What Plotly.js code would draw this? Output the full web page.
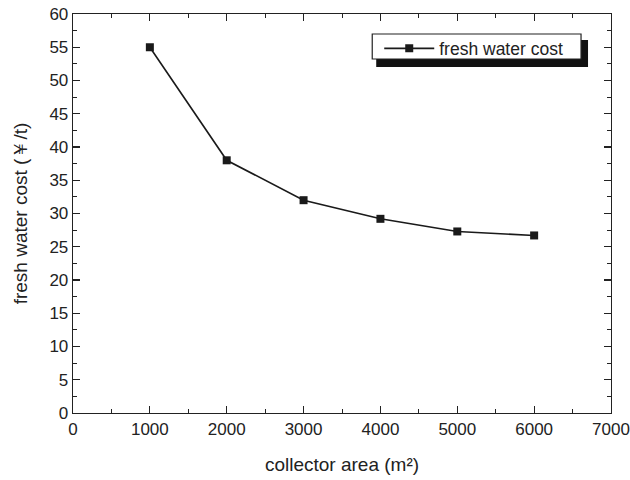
<!DOCTYPE html>
<html>
<head>
<meta charset="utf-8">
<script src="https://cdn.plot.ly/plotly-3.0.1.min.js"></script>
<style>html,body{margin:0;padding:0;background:#fff;}#chart{width:630px;height:480px;}</style>
</head>
<body>
<div id="chart"></div>
<script>
const collectorArea = [1000, 2000, 3000, 4000, 5000, 6000];
const waterCost = [55.0, 38.0, 32.0, 29.2, 27.3, 26.7];
const seriesName = 'fresh water cost';

const trace = {
  x: collectorArea,
  y: waterCost,
  name: seriesName,
  type: 'scatter',
  mode: 'lines+markers',
  line: {color: '#1a1a1a', width: 1.6},
  marker: {symbol: 'square', size: 8, color: '#1a1a1a'}
};

const fontFam = '"Liberation Sans", Arial, sans-serif';
const axisCommon = {
  showline: true, linecolor: '#222', linewidth: 1.3, mirror: 'ticks',
  ticks: 'inside', ticklen: 7, tickwidth: 1.2, tickcolor: '#222',
  showgrid: false, zeroline: false, ticklabeloverflow: 'allow',
  tickfont: {family: fontFam, size: 17, color: '#222'}
};

const layout = {
  width: 630, height: 480,
  margin: {l: 72.5, r: 19, t: 14, b: 67},
  paper_bgcolor: '#fff', plot_bgcolor: '#fff',
  showlegend: true,
  xaxis: Object.assign({}, axisCommon, {
    range: [0, 7000], dtick: 1000, tick0: 0,
    minor: {ticks: 'inside', dtick: 500, ticklen: 4, tickcolor: '#222', tickwidth: 1},
    title: {text: 'collector area (m²)', font: {family: fontFam, size: 19, color: '#222'}, standoff: 20}
  }),
  yaxis: Object.assign({}, axisCommon, {
    range: [0, 60], dtick: 5, tick0: 0,
    minor: {ticks: 'inside', dtick: 2.5, ticklen: 4, tickcolor: '#222', tickwidth: 1},
    title: {text: 'fresh water cost (￥/t)', font: {family: fontFam, size: 19, color: '#222'}, standoff: 16}
  }),
  legend: {
    x: 0.5692, y: 0.9587, xanchor: 'left', yanchor: 'top',
    bgcolor: 'rgba(0,0,0,0)', borderwidth: 0,
    font: {family: fontFam, size: 17.5, color: '#222'},
    itemwidth: 50
  },
  shapes: [{
    type: 'rect', xref: 'paper', yref: 'paper',
    x0: 0.5636, x1: 0.9573, y0: 0.867, y1: 0.935,
    fillcolor: '#111', line: {width: 0}, layer: 'above'
  }, {
    type: 'rect', xref: 'paper', yref: 'paper',
    x0: 0.5562, x1: 0.9443, y0: 0.8872, y1: 0.9499,
    fillcolor: '#fff', line: {width: 1.2, color: '#222'}, layer: 'above'
  }]
};

Plotly.newPlot('chart', [trace], layout, {displayModeBar: false, staticPlot: true});
</script>
</body>
</html>
